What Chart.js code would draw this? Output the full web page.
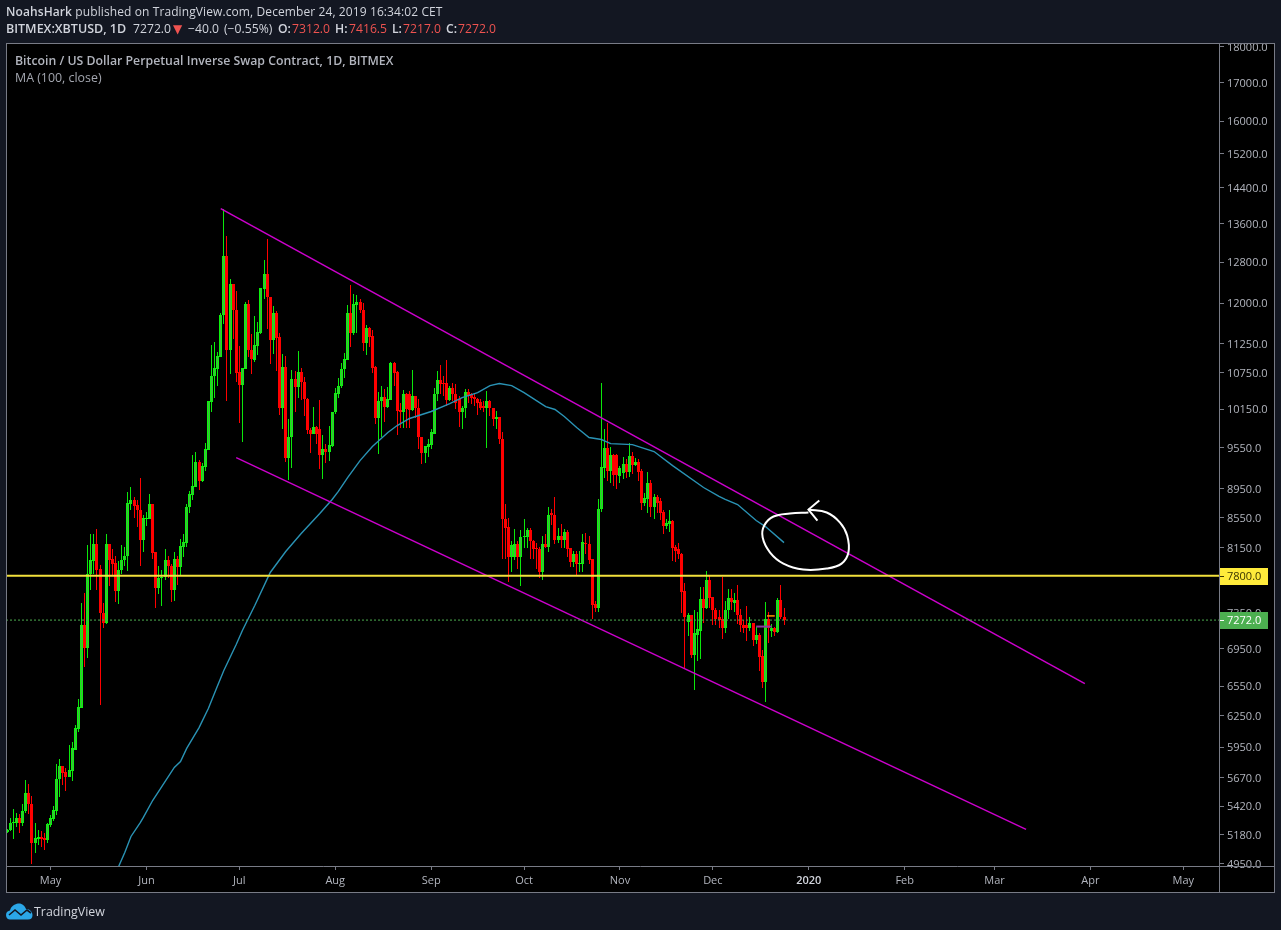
<!DOCTYPE html>
<html>
<head>
<meta charset="utf-8">
<title>XBTUSD</title>
<script src="https://cdn.jsdelivr.net/npm/chart.js@4/dist/chart.umd.min.js"></script>
<style>
  html, body { margin: 0; padding: 0; background: #131722; overflow: hidden; }
  #wrap { position: relative; width: 1281px; height: 930px; font-family: "Open Sans", sans-serif; }
  canvas { position: absolute; left: 0; top: 0; }
  .txt { position: absolute; white-space: nowrap; font-size: 12.2px; line-height: 16px; color: #d1d4dc; }
  .txt b { font-weight: 600; }
  .dn { color: #ef5350; }
  .l2 { top: 21px; }
</style>
</head>
<body>
<div id="wrap">
  <canvas id="chart" width="1281" height="930"></canvas>
  <div class="txt" style="left:6px;top:4px;font-size:12px;letter-spacing:0.1px"><b>NoahsHark</b> published on TradingView.com, December 24, 2019 16:34:02 CET</div>
  <div class="txt l2" style="left:6px;font-size:12.5px"><b>BITMEX:XBTUSD, 1D</b></div>
  <div class="txt l2" style="left:133px">7272.0</div>
  <div class="txt l2 dn" style="left:173px;font-family:'DejaVu Sans';font-size:12px">▼</div>
  <div class="txt l2" style="left:188px">−40.0</div>
  <div class="txt l2" style="left:224px">(−0.55%)</div>
  <div class="txt l2" style="left:278px"><b>O:</b></div>
  <div class="txt l2 dn" style="left:292px">7312.0</div>
  <div class="txt l2" style="left:335px"><b>H:</b></div>
  <div class="txt l2 dn" style="left:349px">7416.5</div>
  <div class="txt l2" style="left:392px"><b>L:</b></div>
  <div class="txt l2 dn" style="left:403px">7217.0</div>
  <div class="txt l2" style="left:446px"><b>C:</b></div>
  <div class="txt l2 dn" style="left:458px">7272.0</div>
  <div class="txt" style="left:15px;top:53px;font-size:12.3px;font-weight:600;color:#b2b5be">Bitcoin / US Dollar Perpetual Inverse Swap Contract, 1D, BITMEX</div>
  <div class="txt" style="left:15px;top:70px;font-size:12.4px;color:#a3a6af">MA (100, close)</div>
  <svg style="position:absolute;left:6px;top:903px" width="27" height="17" viewBox="0 0 27 17">
    <path fill="#2ba7e8" d="M0 12 C0 9 2 8 4 7.5 C5 3 9 1 12 0.5 C16 0 19 3 20 6 C24 6 26.5 9 26.5 12 C26.5 15 25 16.5 22 16.5 L4 16.5 C2 16.5 0 15 0 12 Z"/>
    <path fill="none" stroke="#131722" stroke-width="1.6" d="M3 12 L9 7 L15 12 L21 7 L25 10"/>
  </svg>
  <div class="txt" style="left:34px;top:903px;font-size:12.4px;line-height:18px;color:#d1d4dc">TradingView</div>
</div>
<script>
// day 0 = 1 May 2019, one candle per day
var firstDay = -14;

var opens = [
  5199,5216,5273,5273,5315,5281,5375,5530,5434,5109,
  5142,5158,5150,5134,5257,5307,5375,5653,5770,5716,
  5671,5725,5927,6127,6333,7221,6963,7827,7989,8206,
  7889,7348,7244,8206,8015,7964,7608,7877,8002,8053,
  8742,8785,8728,8660,8259,8538,8538,8742,8104,7656,
  7766,7790,8002,7926,7620,8015,7902,8168,8219,8688,
  8855,8967,9341,9066,9268,9521,10270,10702,10821,11028,
  11768,12937,11151,12376,11879,10770,10550,10821,11991,11151,
  10976,11221,11455,12280,12574,12107,11328,11805,11383,10174,
  10855,9401,9704,10651,10517,10770,10601,10320,9827,9765,
  9873,9842,9446,9536,9491,9581,10095,10402,10534,10821,
  10976,11823,11455,11972,12029,11879,11274,11546,11401,10855,
  10015,10287,10352,10190,10303,10923,10770,10127,10095,10402,
  10402,10127,10369,10174,9704,9476,9566,9596,9765,10402,
  10634,10584,10584,10303,10501,10402,10320,10095,10174,10435,
  10402,10352,10320,10270,10206,10174,10287,10174,9984,10031,
  9688,8538,8430,8040,8040,8206,8040,8298,8298,8378,
  8245,8155,8142,7852,8206,8168,8606,8592,8259,8311,
  8259,8364,8155,7977,8066,7951,7951,8219,8206,8015,
  7464,7417,8674,9254,9551,9210,9446,9446,9138,9181,
  9312,9196,9431,9297,9341,9210,8756,8799,9037,8701,
  8827,8771,8633,8444,8470,8511,8168,8130,8078,7608,
  7255,7325,6887,7108,7153,7524,7417,7753,7548,7394,
  7302,7290,7176,7394,7536,7476,7512,7336,7221,7210,
  7176,7244,7052,7108,6876,6599,7290,7142,7187,7131,
  7512,7312
];
var highs = [
  5224,5315,5391,5358,5349,5442,5644,5617,5503,5273,
  5216,5207,5191,5273,5341,5417,5797,5843,5779,5752,
  5974,6002,6165,6424,7476,7584,8193,8338,8325,8404,
  7939,7476,8338,8206,8130,8053,7989,8193,8168,8897,
  8967,8827,8785,9109,8579,8633,8869,8742,8104,7926,
  7877,8130,8053,7951,8104,8053,8272,8338,8742,8911,
  9446,9491,9371,9326,9626,10287,11238,11292,11116,11805,
  13934,13352,12475,12376,12241,11221,10838,12029,12068,11437,
  11749,11655,12299,12855,13286,12107,11954,11842,11455,11081,
  11046,9984,10804,10787,11133,10838,10685,10336,9858,10190,
  9889,10303,9750,9611,9889,10095,10501,10668,10923,11098,
  11972,12357,12183,12164,12087,12010,11600,11564,11492,10872,
  10435,10534,10484,10517,10941,10941,10787,10254,10468,10418,
  10451,10804,10369,10320,9704,9581,9688,9842,10501,10787,
  10889,10702,10976,10534,10584,10567,10369,10206,10484,10484,
  10418,10418,10336,10320,10287,10451,10303,10174,10111,10031,
  9781,8742,8551,8245,8404,8245,8378,8538,8417,8417,
  8259,8219,8168,8311,8338,8688,8674,8827,8417,8470,
  8391,8378,8155,8117,8117,8117,8325,8351,8311,8015,
  7500,8799,10584,9842,9936,9566,9461,9461,9283,9416,
  9386,9626,9491,9401,9386,9239,8883,9196,9080,8869,
  8855,8813,8660,8538,8647,8524,8193,8219,8091,7716,
  7348,7336,7383,7360,7668,7668,7864,7815,7548,7417,
  7394,7790,7500,7644,7644,7584,7692,7406,7278,7441,
  7302,7244,7198,7120,6931,7488,7360,7232,7198,7536,
  7692,7416.5
];
var lows = [
  5191,5207,5142,5240,5191,5249,5358,5349,4950,5029,
  5093,5077,5053,5117,5240,5298,5341,5495,5600,5547,
  5671,5635,5918,6089,6333,6757,6854,7620,7827,7632,
  6363,7187,7232,7680,7803,7488,7464,7827,7926,7864,
  8647,8551,8430,7926,8104,8444,8538,8015,7417,7572,
  7441,7753,7778,7488,7500,7692,7803,8040,8168,8619,
  8785,8967,8925,9051,9210,9521,10095,10336,10534,11028,
  11618,10287,10736,11346,10601,9936,9642,10821,11028,10736,
  10941,11063,11437,12087,11510,10906,11081,10787,10063,9842,
  9341,9080,9254,10095,10336,10303,10047,9765,9476,9765,
  9611,9239,9094,9326,9356,9566,10079,10336,10501,10668,
  10976,11203,11419,11455,11805,11133,11063,11203,10753,9920,
  9461,9704,9952,10174,10303,10534,9735,9858,9858,9858,
  9858,10111,10015,9536,9312,9326,9416,9536,9765,10287,
  10402,10369,10206,10287,10287,10158,9873,9842,10015,10254,
  10238,10206,10063,10127,10095,9551,10047,9889,9842,9611,
  8015,8015,7729,7852,8002,7889,7680,8155,8155,8015,
  8015,7889,7778,7753,8155,8104,8457,8206,8219,8155,
  8155,8028,7902,7914,7803,7852,7852,8078,7951,7290,
  7360,7371,8633,9109,9066,9037,8981,8939,9037,9094,
  9109,9123,9167,9283,9066,8660,8715,8606,8565,8538,
  8619,8524,8338,8404,8364,7989,7977,8015,7348,6736,
  7086,6844,6507,6822,6833,7244,7406,7417,7210,7210,
  7187,7063,7120,7290,7383,7371,7232,7131,7120,7041,
  7153,6985,7007,6715,6527,6394,7018,7075,7086,7120,
  7290,7217
];
var closes = [
  5216,5273,5281,5315,5281,5375,5530,5434,5109,5150,
  5158,5142,5134,5265,5315,5383,5653,5770,5707,5671,
  5734,5937,6136,6343,7221,6963,7827,8002,8206,7877,
  7348,7244,8206,8002,7951,7608,7877,8002,8053,8756,
  8785,8715,8660,8259,8551,8551,8742,8091,7656,7778,
  7778,8002,7926,7620,8015,7902,8181,8232,8701,8869,
  8981,9341,9066,9283,9536,10287,10702,10838,11046,11768,
  12937,11151,12376,11861,10753,10550,10838,11991,11151,10993,
  11238,11473,12299,12574,12107,11328,11805,11365,10174,10855,
  9401,9704,10651,10517,10770,10601,10320,9827,9765,9873,
  9765,9446,9536,9491,9596,10095,10418,10534,10821,10993,
  11823,11455,11991,12029,11861,11274,11546,11383,10838,10015,
  10287,10352,10190,10320,10923,10753,10111,10095,10402,10143,
  10127,10369,10174,9704,9476,9581,9611,9781,10402,10634,
  10567,10567,10303,10501,10402,10254,10095,10174,10435,10369,
  10336,10320,10254,10174,10174,10287,10174,9984,10031,9688,
  8538,8417,8040,8193,8206,8040,8298,8311,8378,8245,
  8142,8130,7852,8206,8168,8592,8592,8259,8311,8259,
  8364,8142,7977,8066,7951,7964,8232,8206,8002,7452,
  7417,8674,9268,9551,9210,9446,9152,9152,9254,9312,
  9196,9431,9297,9341,9196,8756,8813,9037,8701,8827,
  8756,8619,8444,8483,8511,8155,8117,8078,7596,7313,
  7325,6887,7120,7165,7524,7417,7753,7536,7394,7290,
  7278,7176,7394,7536,7488,7512,7325,7210,7187,7176,
  7244,7052,7108,6865,6599,7290,7187,7187,7131,7512,
  7302,7272
];

// MA (100, close), read every few days
var maDays = [22,24,26,29,30,33,36,40,42,44,48,51,54,56,60,62,66,71,76,81,87,91,93,96,100,104,109,112,116,123,129,133,138,142,145,149,153,157,160,163,166,170,174,178,181,188,195,201,211,216,218,222,228,231,237];
var maValues = [4926,5037,5166,5281,5324,5468,5591,5761,5815,5937,6136,6324,6558,6715,6996,7153,7441,7840,8104,8338,8606,8799,8911,9109,9356,9566,9781,9889,10000,10111,10238,10336,10418,10534,10567,10534,10418,10287,10190,10143,10031,9858,9704,9673,9611,9596,9491,9283,8967,8841,8799,8728,8511,8430,8219];

// hand drawn channel
var upperDays = [55, 334.2];
var upperPrices = [13934, 6578];
var lowerDays = [60, 315.2];
var lowerPrices = [9401, 5224];

// hand drawn circle and arrow
var circleDays = [244.9,250.8,255.1,257.4,257.8,255.6,250.8,243.2,236.8,232.5,230.1,230.6,233.6,238.9,244.9];
var circlePrices = [8660,8619,8483,8311,8091,7951,7889,7877,7951,8091,8285,8444,8565,8606,8619];
var arrowDays = [248.4,244.9,247.8];
var arrowPrices = [8785,8660,8511];

// small drawing marks next to the last candles
var purpleDays = [228, 233];
var purplePrices = [7198, 7198];
var orangeDays = [231.5, 234];
var orangePrices = [7320, 7320];

var levelPrice = 7800;
var lastPrice = 7272;

var priceTicks = [18000,17000,16000,15200,14400,13600,12800,12000,11250,10750,10150,9550,8950,8550,8150,7350,6950,6550,6250,5950,5670,5420,5180,4950];
var monthDays = [0,31,61,92,123,153,184,214,245,276,305,336,366];
var monthLabels = ["May","Jun","Jul","Aug","Sep","Oct","Nov","Dec","2020","Feb","Mar","Apr","May"];

var xMin = -14.38, xMax = 377.54;
var yMin = 4930.5, yMax = 18099.8;

function points(xs, ys) {
  return xs.map(function (x, i) { return { x: x, y: ys[i] }; });
}
function lineSet(data, color, width, order, extra) {
  return Object.assign({
    type: "line", data: data, borderColor: color, borderWidth: width,
    pointRadius: 0, tension: 0, order: order, fill: false
  }, extra || {});
}

var days = opens.map(function (v, i) { return firstDay + i; });
var wicks = days.map(function (d, i) { return { x: d, y: [lows[i], highs[i]] }; });
var bodies = days.map(function (d, i) { return { x: d, y: [opens[i], closes[i]] }; });
var isUp = days.map(function (d, i) { return closes[i] >= opens[i]; });

// black panel, frame and the two price labels on the axis
var panelPlugin = {
  id: "panel",
  beforeDraw: function (chart) {
    var ctx = chart.ctx;
    ctx.fillStyle = "#000000";
    ctx.fillRect(6, 43, 1269, 850);
    // tick labels sit one pixel below the tick
    chart.scales.y.getLabelItems().forEach(function (item) {
      item.options.translation[1] += 1;
    });
  },
  // snap the candles to whole pixels so they stay crisp
  beforeDatasetsDraw: function (chart) {
    chart.getSortedVisibleDatasetMetas().forEach(function (meta) {
      if (meta.type !== "bar") return;
      meta.data.forEach(function (el) {
        el.x = Math.floor(el.x) + 0.5;
        el.y = Math.round(el.y);
        el.base = Math.round(el.base);
        if (el.base === el.y) el.base = el.y + 1;
      });
    });
  },
  afterDraw: function (chart) {
    var ctx = chart.ctx, area = chart.chartArea, y = chart.scales.y;
    // top label is cut off by the panel edge
    ctx.fillStyle = "#131722";
    ctx.fillRect(area.right + 1, 30, 60, 13);
    ctx.strokeStyle = "#787b86";
    ctx.lineWidth = 1;
    ctx.strokeRect(6.5, 43.5, 1268, 849);
    ctx.beginPath();
    ctx.moveTo(6, area.bottom + 0.5); ctx.lineTo(1275, area.bottom + 0.5);
    ctx.moveTo(area.right + 0.5, 43); ctx.lineTo(area.right + 0.5, 893);
    ctx.stroke();
    [[levelPrice, "#ffeb3b", "#3a3500"], [lastPrice, "#4caf50", "#ffffff"]].forEach(function (l) {
      var py = Math.round(y.getPixelForValue(l[0]));
      ctx.fillStyle = l[1];
      ctx.fillRect(area.right + 1, py - 8, 48, 17);
      ctx.strokeStyle = l[2];
      ctx.beginPath();
      ctx.moveTo(area.right + 1, py + 0.5); ctx.lineTo(area.right + 5, py + 0.5);
      ctx.stroke();
      ctx.fillStyle = l[2];
      ctx.font = '11px "Open Sans"';
      ctx.textBaseline = "middle";
      ctx.textAlign = "left";
      ctx.fillText(l[0].toFixed(1), area.right + 8, py + 1);
    });
  }
};

new Chart(document.getElementById("chart").getContext("2d"), {
  type: "bar",
  data: {
    datasets: [
      {
        data: wicks, order: 6, grouped: false, barThickness: 1, inflateAmount: 0,
        backgroundColor: isUp.map(function (u) { return u ? "#0be80b" : "#ff0000"; }),
        borderWidth: 0
      },
      {
        data: bodies, order: 5, grouped: false, barThickness: 3, inflateAmount: 0, minBarLength: 1,
        backgroundColor: isUp.map(function (u) { return u ? "#45b045" : "#ff0000"; }),
        borderColor: isUp.map(function (u) { return u ? "#0cf20c" : "#ff0000"; }),
        borderWidth: 1, borderSkipped: false
      },
      lineSet(points(purpleDays, purplePrices), "#8e3a9e", 2, 4),
      lineSet(points(orangeDays, orangePrices), "#ff9800", 1.5, 4),
      lineSet(points(maDays, maValues), "#2a93b5", 1.4, 4),
      lineSet(points(upperDays, upperPrices), "#cc00cc", 1.5, 3),
      lineSet(points(lowerDays, lowerPrices), "#cc00cc", 1.5, 3),
      lineSet(points(circleDays, circlePrices), "#ffffff", 2, 2, { tension: 0.4 }),
      lineSet(points(arrowDays, arrowPrices), "#ffffff", 2, 2),
      lineSet(points([xMin, xMax], [lastPrice, lastPrice]), "#4caf50", 1, 1, { borderDash: [2, 2] }),
      lineSet(points([xMin, xMax], [levelPrice, levelPrice]), "#f2e03c", 2, 1)
    ]
  },
  options: {
    responsive: false,
    animation: false,
    layout: { padding: { left: 6, top: 43, right: 6, bottom: 37 } },
    plugins: { legend: { display: false }, tooltip: { enabled: false } },
    scales: {
      x: {
        type: "linear", min: xMin, max: xMax, bounds: "data", offset: false,
        grid: { drawOnChartArea: false, offset: false, tickLength: 4, color: "#787b86" },
        border: { display: false },
        afterBuildTicks: function (s) { s.ticks = monthDays.map(function (d) { return { value: d }; }); },
        afterFit: function (s) { s.height = 27; },
        ticks: {
          autoSkip: false, maxRotation: 0, padding: 4,
          color: function (c) { return c.tick.value === 245 ? "#d1d4dc" : "#b2b5be"; },
          font: function (c) {
            return { family: "Open Sans", size: 11, weight: c.tick && c.tick.value === 245 ? "600" : "400" };
          },
          callback: function (v) { return monthLabels[monthDays.indexOf(v)]; }
        }
      },
      y: {
        type: "logarithmic", position: "right", min: yMin, max: yMax, bounds: "data", beginAtZero: false,
        grid: { drawOnChartArea: false, tickLength: 5, color: "#787b86" },
        border: { display: false },
        afterBuildTicks: function (s) { s.ticks = priceTicks.map(function (v) { return { value: v }; }); },
        afterFit: function (s) { s.width = 56; },
        ticks: {
          autoSkip: false, padding: 3, color: "#b2b5be",
          font: { family: "Open Sans", size: 11 },
          callback: function (v) { return v.toFixed(1); }
        }
      }
    }
  },
  plugins: [panelPlugin]
});
</script>
</body>
</html>
